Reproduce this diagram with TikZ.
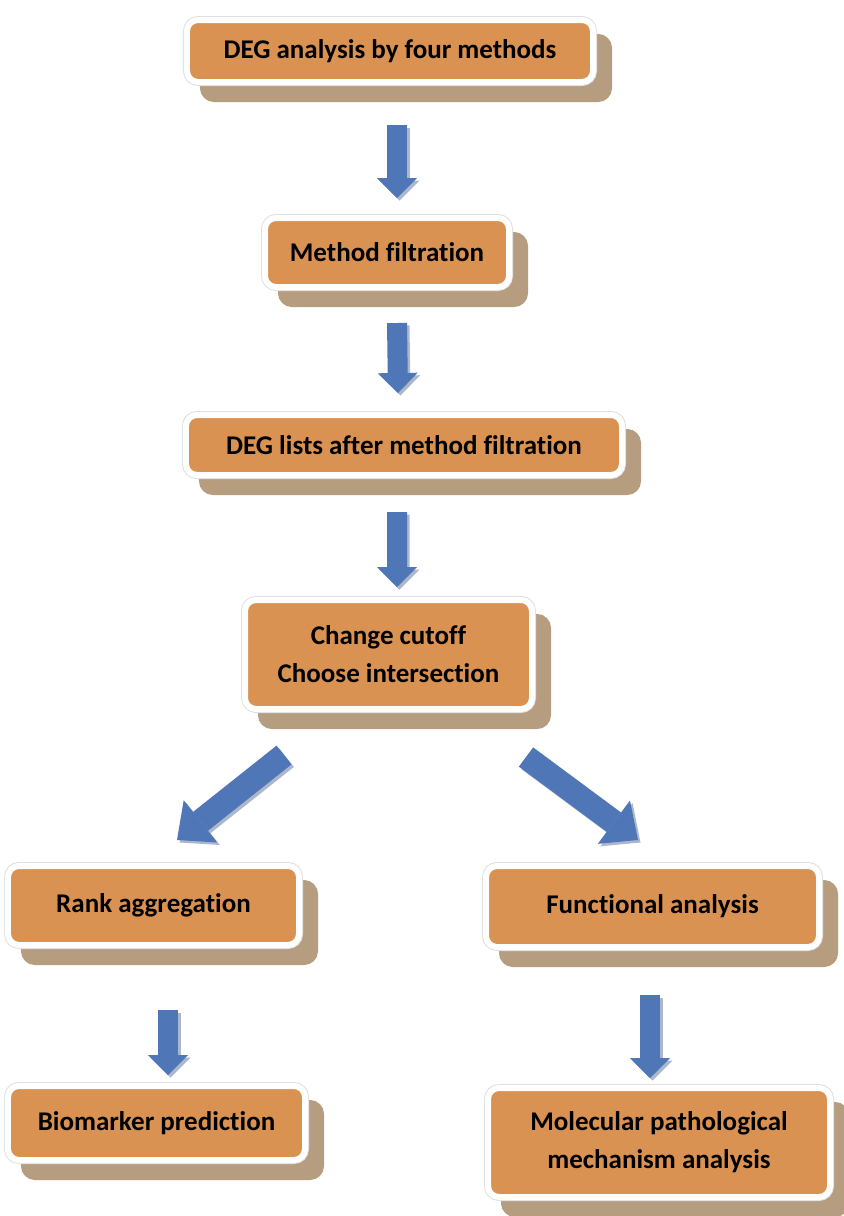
\documentclass[tikz,border=0pt]{standalone}
\usepackage{fontspec}
\setmainfont{Carlito}[Ligatures=NoCommon]
\usetikzlibrary{arrows.meta,shadows}

\definecolor{boxorange}{RGB}{217,146,82}
\definecolor{boxshadow}{RGB}{182,157,128}
\definecolor{arrowblue}{RGB}{79,118,183}
\definecolor{arrowshade}{RGB}{172,183,204}

\tikzset{
  flowbox/.style={drop shadow={shadow xshift=16bp, shadow yshift=-17bp, fill=boxshadow, draw=boxshadow, opacity=1},
    preaction={draw=black!12, line width=8bp}, rounded corners=11bp, fill=boxorange, draw=white,
    line width=6bp, align=center, inner sep=0pt, font=\fontsize{27bp}{38bp}\selectfont\bfseries},
  downarrow/.style={line width=20bp, arrowblue, -{Triangle[length=20bp, width=40bp, line width=0pt]}},
  diagarrow/.style={line width=24bp, arrowblue, -{Triangle[length=30bp, width=54bp, line width=0pt]}},
}

% block arrow with its light shade
\newcommand{\blockarrow}[3]{%
  \draw[#1, arrowshade, transform canvas={shift={(2.5bp,-2.5bp)}}] #2 -- #3;
  \draw[#1] #2 -- #3;}

\begin{document}
\begin{tikzpicture}[x=1bp, y=-1bp]
  \useasboundingbox (0,0) rectangle (844,1216);

  \node[flowbox, minimum width=406bp, minimum height=62bp] (degs) at (390,51) {DEG analysis by four methods};
  \node[flowbox, minimum width=244bp, minimum height=69bp] (filt) at (387,252.5) {Method filtration};
  \node[flowbox, minimum width=436bp, minimum height=60bp] (lists) at (404,445) {DEG lists after method filtration};
  \node[flowbox, minimum width=287bp, minimum height=109bp] (cutoff) at (388.5,654.5) {Change cutoff\\Choose intersection};
  \node[flowbox, minimum width=291bp, minimum height=79bp] (rank) at (153.5,905.5) {Rank aggregation};
  \node[flowbox, minimum width=333bp, minimum height=81bp] (func) at (652.5,906.5) {Functional analysis};
  \node[flowbox, minimum width=297bp, minimum height=74bp] (bio) at (156.5,1123) {Biomarker prediction};
  \node[flowbox, minimum width=342bp, minimum height=109bp] (mech) at (659,1142.5) {Molecular pathological\\mechanism analysis};

  \blockarrow{downarrow}{([shift={(7,40)}]degs.south)}{([shift={(10,-17)}]filt.north)}
  \blockarrow{downarrow}{([shift={(10,33)}]filt.south)}{([shift={(-6,-19)}]lists.north)}
  \blockarrow{downarrow}{([shift={(-7,34)}]lists.south)}{([shift={(8.5,-10)}]cutoff.north)}
  \blockarrow{diagarrow}{([shift={(-104.5,43)}]cutoff.south)}{([shift={(23.5,-23)}]rank.north)}
  \blockarrow{diagarrow}{([shift={(137.5,45)}]cutoff.south)}{([shift={(-14.5,-23)}]func.north)}
  \blockarrow{downarrow}{([shift={(14.5,62)}]rank.south)}{([shift={(11.5,-8)}]bio.north)}
  \blockarrow{downarrow}{([shift={(-2.5,45)}]func.south)}{([shift={(-9,-7)}]mech.north)}
\end{tikzpicture}
\end{document}
